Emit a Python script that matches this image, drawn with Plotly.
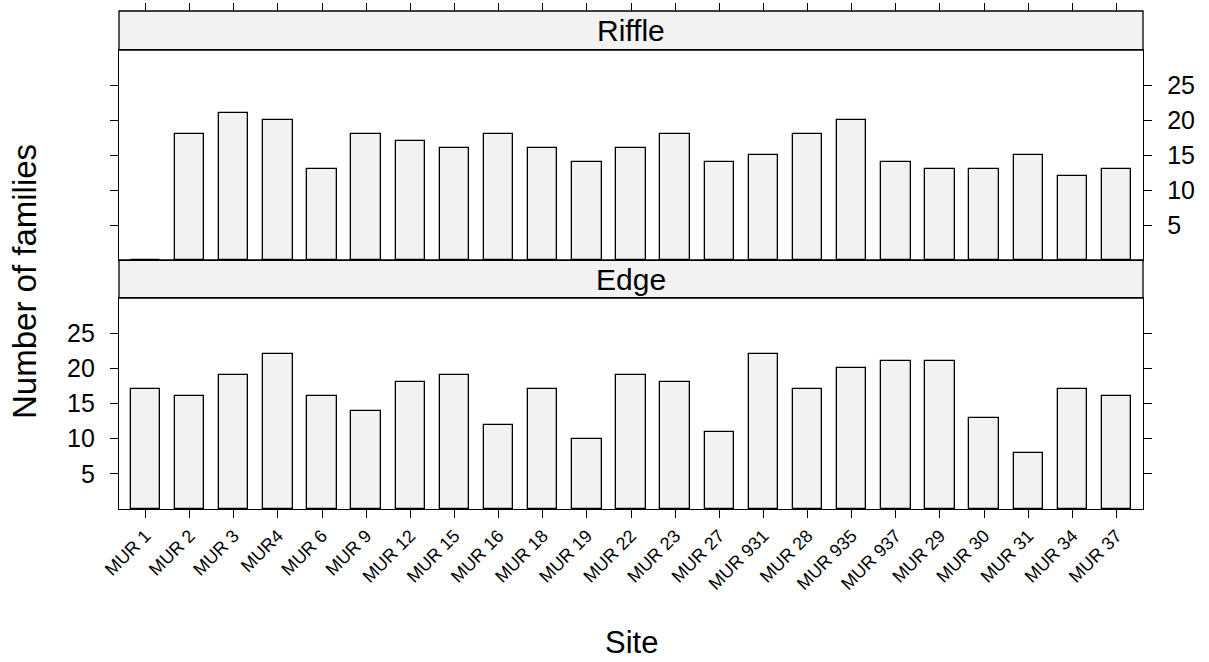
import plotly.graph_objects as go

sites = ["MUR 1", "MUR 2", "MUR 3", "MUR4", "MUR 6", "MUR 9", "MUR 12", "MUR 15",
         "MUR 16", "MUR 18", "MUR 19", "MUR 22", "MUR 23", "MUR 27", "MUR 931",
         "MUR 28", "MUR 935", "MUR 937", "MUR 29", "MUR 30", "MUR 31", "MUR 34", "MUR 37"]
riffle = [0, 18, 21, 20, 13, 18, 17, 16, 18, 16, 14, 16, 18, 14, 15, 18, 20, 14, 13, 13, 15, 12, 13]
edge = [17, 16, 19, 22, 16, 14, 18, 19, 12, 17, 10, 19, 18, 11, 22, 17, 20, 21, 21, 13, 8, 17, 16]
y_ticks = [5, 10, 15, 20, 25]

W, H = 1209, 662
FONT = "Liberation Sans, Arial, Helvetica, sans-serif"
FILL = "#f2f2f2"

xl, xr = 119 / W, 1143 / W
top_dom = [1 - 260 / H, 1 - 50 / H]
bot_dom = [1 - 509 / H, 1 - 298 / H]
strip_top = [1 - 50 / H, 1 - 11 / H]
strip_bot = [1 - 298 / H, 1 - 260 / H]

n = len(sites)
xrange_ = [-0.6, n - 1 + 0.6]

fig = go.Figure()
bar_style = dict(marker=dict(color=FILL, line=dict(color="black", width=1.3)),
                 width=2 / 3, showlegend=False, hoverinfo="x+y")
fig.add_trace(go.Bar(x=sites, y=riffle, xaxis="x2", yaxis="y2", **bar_style))
fig.add_trace(go.Bar(x=sites, y=edge, xaxis="x", yaxis="y", **bar_style))
# invisible trace so the top tick axis is drawn
fig.add_trace(go.Scatter(x=sites, y=[None] * n, xaxis="x3", yaxis="y2",
                         mode="none", showlegend=False, hoverinfo="skip"))

ax_common = dict(showline=True, linecolor="black", linewidth=1.3, showgrid=False,
                 zeroline=False, ticks="outside", ticklen=8, tickwidth=1.3,
                 tickcolor="black", automargin=False)

fig.update_layout(
    template="none",
    width=W, height=H, margin=dict(l=0, r=0, t=0, b=0),
    paper_bgcolor="white", plot_bgcolor="white",
    font=dict(family=FONT, color="black"),
    bargap=0,
    xaxis=dict(domain=[xl, xr], anchor="y", type="category", range=xrange_,
               tickangle=-45, tickfont=dict(size=18), mirror=True,
               categoryorder="array", categoryarray=sites, **ax_common),
    yaxis=dict(domain=bot_dom, anchor="x", range=[0, 30], tickvals=y_ticks,
               tickfont=dict(size=25), mirror="ticks", side="left",
               ticklabelstandoff=10, **ax_common),
    xaxis2=dict(domain=[xl, xr], anchor="y2", type="category", range=xrange_,
                showticklabels=False, mirror=True,
                categoryorder="array", categoryarray=sites,
                **{**ax_common, "ticks": ""}),
    yaxis2=dict(domain=top_dom, anchor="x2", range=[0, 30], tickvals=y_ticks,
                tickfont=dict(size=25), mirror="ticks", side="right",
                ticklabelstandoff=10, **ax_common),
    xaxis3=dict(overlaying="x2", anchor="free", position=strip_top[1], side="top",
                type="category", range=xrange_, showticklabels=False,
                categoryorder="array", categoryarray=sites,
                **{**ax_common, "showline": False}),
)

shapes = []
for y0, y1 in (strip_top, strip_bot):
    shapes.append(dict(type="rect", xref="paper", yref="paper", x0=xl, x1=xr,
                       y0=y0, y1=y1, fillcolor=FILL,
                       line=dict(color="black", width=1.3), layer="below"))
fig.update_layout(shapes=shapes)

ann = [
    dict(text="Riffle", x=(xl + xr) / 2, y=sum(strip_top) / 2),
    dict(text="Edge", x=(xl + xr) / 2, y=sum(strip_bot) / 2),
]
annotations = [dict(a, xref="paper", yref="paper", showarrow=False,
                    font=dict(size=30, family=FONT), xanchor="center", yanchor="middle")
               for a in ann]
annotations.append(dict(text="Number of families", x=24 / W, y=1 - 282 / H, xref="paper",
                        yref="paper", showarrow=False, textangle=-90,
                        font=dict(size=33, family=FONT), xanchor="center", yanchor="middle"))
annotations.append(dict(text="Site", x=631 / W, y=1 - 642 / H, xref="paper",
                        yref="paper", showarrow=False,
                        font=dict(size=31, family=FONT), xanchor="center", yanchor="middle"))
fig.update_layout(annotations=annotations)

fig.write_html("out.html")
